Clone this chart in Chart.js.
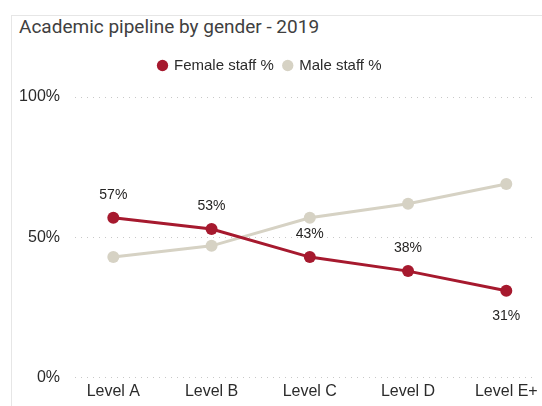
<!DOCTYPE html>
<html>
<head>
<meta charset="utf-8">
<script src="https://cdn.jsdelivr.net/npm/chart.js@4"></script>
<style>
    body { margin: 0; background: #fff; }
    #wrap { position: relative; width: 542px; height: 406px; }
    #frame {
        position: absolute; left: 11px; top: 15px; right: 0; bottom: 0;
        border-left: 1px solid #e6e6e6; border-top: 1px solid #e6e6e6;
    }
    #title {
        position: absolute; left: 19px; top: 14px;
        font-family: Roboto, sans-serif; font-size: 19px; color: #404040;
        line-height: 26px; white-space: nowrap;
    }
    canvas { position: absolute; left: 0; top: 0; }
</style>
</head>
<body>
<div id="wrap">
    <div id="frame"></div>
    <div id="title">Academic pipeline by gender - 2019</div>
    <canvas id="pipelineChart" width="542" height="406"></canvas>
</div>
<script>
const levels = ['Level A', 'Level B', 'Level C', 'Level D', 'Level E+'];
const femalePct = [57, 53, 43, 38, 31];
const malePct = [43, 47, 57, 62, 69];
const yTicks = [0, 50, 100];

const femaleColor = '#a6192e';
const maleColor = '#d6d2c4';

// percentage labels on the female line (last one sits under the point)
const pointLabels = {
    id: 'pointLabels',
    afterDatasetsDraw(chart) {
        const ctx = chart.ctx;
        const meta = chart.getDatasetMeta(0);
        ctx.save();
        ctx.font = '14px "Liberation Sans", Arial, sans-serif';
        ctx.fillStyle = '#252423';
        ctx.textAlign = 'center';
        ctx.textBaseline = 'middle';
        meta.data.forEach((pt, i) => {
            const dy = i === meta.data.length - 1 ? 25 : -23;
            ctx.fillText(femalePct[i] + '%', pt.x, pt.y + dy);
        });
        ctx.restore();
    }
};

const ctx = document.getElementById('pipelineChart').getContext('2d');

const myChart = new Chart(ctx, {
    type: 'line',
    data: {
        datasets: [{
            label: 'Female staff %',
            data: femalePct.map((v, i) => ({ x: i, y: v })),
            borderColor: femaleColor,
            backgroundColor: femaleColor,
            borderWidth: 3,
            pointRadius: 6,
            pointHoverRadius: 6,
            pointBorderWidth: 0,
        }, {
            label: 'Male staff %',
            data: malePct.map((v, i) => ({ x: i, y: v })),
            borderColor: maleColor,
            backgroundColor: maleColor,
            borderWidth: 3,
            pointRadius: 6,
            pointHoverRadius: 6,
            pointBorderWidth: 0,
        }],
    },
    options: {
        responsive: false,
        animation: false,
        layout: {
            padding: { left: 0, right: 2, top: 48, bottom: 1 }
        },
        plugins: {
            legend: {
                position: 'top',
                align: 'center',
                labels: {
                    usePointStyle: true,
                    pointStyle: 'circle',
                    boxWidth: 8,
                    boxHeight: 8,
                    padding: 10,
                    color: '#2b2b2b',
                    font: { family: '"Liberation Sans", Arial, sans-serif', size: 15 }
                }
            },
            tooltip: { enabled: false }
        },
        scales: {
            x: {
                type: 'linear',
                min: -0.39,
                max: 4.275,
                grid: { display: false, drawTicks: false },
                border: { display: false },
                ticks: {
                    stepSize: 1,
                    includeBounds: false,
                    padding: 4,
                    color: '#2b2b2b',
                    font: { family: '"Liberation Sans", Arial, sans-serif', size: 16 },
                    callback: value => levels[value]
                }
            },
            y: {
                type: 'linear',
                min: 0,
                max: 105,
                afterFit: scale => { scale.width = 75; },
                afterBuildTicks: scale => { scale.ticks = yTicks.map(v => ({ value: v })); },
                grid: {
                    color: '#c8c8c8',
                    lineWidth: 1,
                    drawTicks: false
                },
                border: { display: false, dash: [1, 5] },
                ticks: {
                    padding: 15,
                    color: '#2b2b2b',
                    font: { family: '"Liberation Sans", Arial, sans-serif', size: 16 },
                    callback: value => value + '%'
                }
            }
        }
    },
    plugins: [pointLabels]
});
</script>
</body>
</html>
